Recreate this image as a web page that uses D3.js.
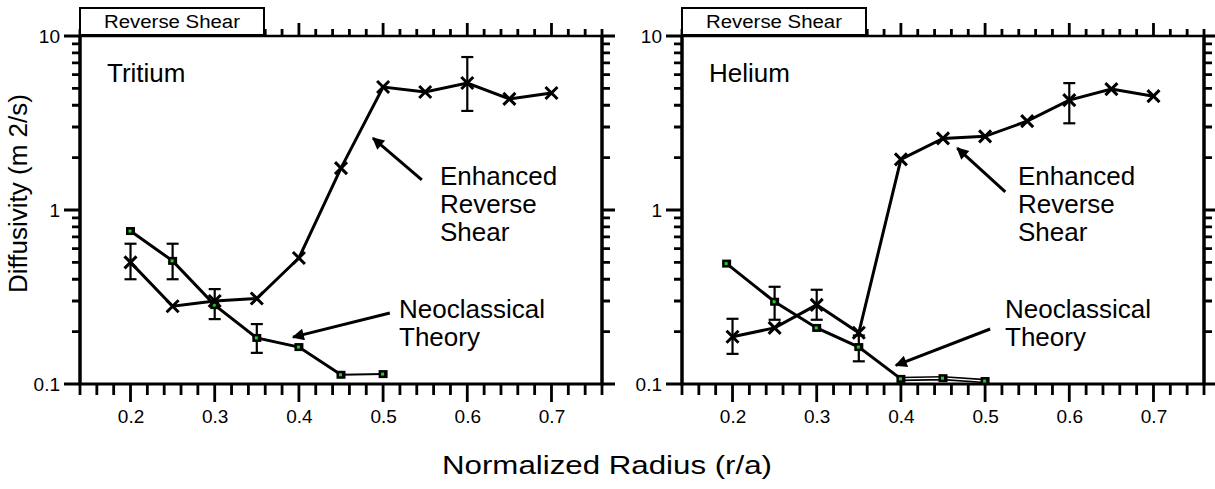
<!DOCTYPE html>
<html>
<head>
<meta charset="utf-8">
<script src="https://cdn.jsdelivr.net/npm/d3@7"></script>
<style>
  html, body { margin: 0; padding: 0; background: #fff; }
  svg { display: block; font-family: "Liberation Sans", Arial, sans-serif; }
</style>
</head>
<body>
<svg id="chart" width="1215" height="489"></svg>
<script>
// ---------------- data ----------------
const xRS = [0.2, 0.25, 0.3, 0.35, 0.4, 0.45, 0.5, 0.55, 0.6, 0.65, 0.7];
const tritiumRS = [0.50, 0.28, 0.30, 0.31, 0.53, 1.74, 5.09, 4.77, 5.37, 4.35, 4.70];
const tritiumNCx = [0.2, 0.25, 0.3, 0.35, 0.4, 0.45, 0.5];
const tritiumNC = [0.757, 0.51, 0.284, 0.184, 0.163, 0.113, 0.114];
const tritiumErrX = [0.2, 0.25, 0.3, 0.35, 0.6];
const tritiumErrLo = [0.40, 0.40, 0.236, 0.151, 3.71];
const tritiumErrHi = [0.64, 0.64, 0.351, 0.221, 7.57];

const heliumRS = [0.187, 0.21, 0.285, 0.197, 1.955, 2.58, 2.65, 3.24, 4.28, 4.95, 4.51];
const heliumNCx = [0.193, 0.25, 0.3, 0.35, 0.4, 0.45, 0.5];
const heliumNC = [0.492, 0.297, 0.210, 0.163, 0.107, 0.108, 0.104];
const heliumErrX = [0.2, 0.25, 0.3, 0.35, 0.6];
const heliumErrLo = [0.149, 0.234, 0.234, 0.135, 3.15];
const heliumErrHi = [0.237, 0.362, 0.348, 0.19, 5.36];

const xMajorTicks = [0.2, 0.3, 0.4, 0.5, 0.6, 0.7];
const xTickLabels = ["0.2", "0.3", "0.4", "0.5", "0.6", "0.7"];
const yMajorTicks = [0.1, 1, 10];
const yTickLabels = ["0.1", "1", "10"];
const panelTitles = ["Tritium", "Helium"];
const boxLabel = "Reverse Shear";
const rsLabel = ["Enhanced", "Reverse", "Shear"];
const ncLabel = ["Neoclassical", "Theory"];
const xAxisTitle = "Normalized Radius (r/a)";
const yAxisTitle = "Diffusivity (m 2/s)";
// annotation arrows in data units: [fromX, fromY, toX, toY]
const tritiumRSArrow = [0.546, 1.49, 0.488, 2.59];
const tritiumNCArrow = [0.508, 0.256, 0.393, 0.186];
const heliumRSArrow = [0.524, 1.27, 0.467, 2.27];
const heliumNCArrow = [0.506, 0.207, 0.394, 0.128];

// ---------------- layout ----------------
const svg = d3.select("#chart");
const FONT = '"Liberation Sans", Arial, sans-serif';
const xDomain = [0.14, 0.76];
const xMinor = d3.range(0.14, 0.7601, 0.02).map(v => +v.toFixed(2))
  .filter(v => !xMajorTicks.some(m => Math.abs(m - v) < 1e-6));
const yMinor = [];
[0.1, 1].forEach(d => { for (let k = 2; k <= 9; k++) yMinor.push(+(d * k).toFixed(3)); });

const defs = svg.append("defs");
defs.append("marker").attr("id", "arrow").attr("viewBox", "0 0 10 10")
  .attr("refX", 9).attr("refY", 5).attr("markerWidth", 17).attr("markerHeight", 12)
  .attr("markerUnits", "userSpaceOnUse").attr("orient", "auto")
  .append("path").attr("d", "M0,0 L10,5 L0,10 Z").attr("fill", "#000");

const panels = [
  { x0: 80, x1: 602, title: panelTitles[0], rs: tritiumRS, ncx: tritiumNCx, nc: tritiumNC,
    ex: tritiumErrX, elo: tritiumErrLo, ehi: tritiumErrHi, rsArrow: tritiumRSArrow, ncArrow: tritiumNCArrow,
    rsText: 440, ncText: 399, doubleTail: false },
  { x0: 682, x1: 1204, title: panelTitles[1], rs: heliumRS, ncx: heliumNCx, nc: heliumNC,
    ex: heliumErrX, elo: heliumErrLo, ehi: heliumErrHi, rsArrow: heliumRSArrow, ncArrow: heliumNCArrow,
    rsText: 1018, ncText: 1005, doubleTail: true }
];
const yTop = 36, yBot = 384;

panels.forEach(p => {
  const x = d3.scaleLinear().domain(xDomain).range([p.x0, p.x1]);
  const y = d3.scaleLog().domain([0.1, 10]).range([yBot, yTop]);
  const g = svg.append("g");

  // tick marks, positions from the scales
  const hTickPath = (vals, y0, len) => vals.map(v => `M${x(v)},${y0}V${y0 + len}`).join("");
  const vTickPath = (vals, x0, len) => vals.map(v => `M${x0},${y(v)}H${x0 + len}`).join("");
  const tickSpecs = [
    hTickPath(xMinor, yBot, 11), hTickPath(xMajorTicks, yBot, 18),
    hTickPath(xMinor, yTop, -7), hTickPath(xMajorTicks, yTop, -13),
    vTickPath(yMinor, p.x0, -8), vTickPath(yMajorTicks, p.x0, -16),
    vTickPath(yMinor, p.x1, 8), vTickPath(yMajorTicks, p.x1, 13)
  ];
  tickSpecs.forEach(dStr => g.append("path").attr("d", dStr)
    .attr("fill", "none").attr("stroke", "#000").attr("stroke-width", 2.8));

  // tick labels via d3 axes
  const bx = g.append("g").attr("transform", `translate(0,${yBot})`)
    .call(d3.axisBottom(x).tickValues(xMajorTicks).tickSize(0).tickPadding(26)
      .tickFormat((d, i) => xTickLabels[i]));
  const ly = g.append("g").attr("transform", `translate(${p.x0},0)`)
    .call(d3.axisLeft(y).tickValues(yMajorTicks).tickSize(0).tickPadding(20)
      .tickFormat((d, i) => yTickLabels[i]));
  [bx, ly].forEach(a => {
    a.select(".domain").remove();
    a.selectAll(".tick line").remove();
    a.attr("font-size", 19).attr("font-family", FONT);
    a.selectAll("text").attr("fill", "#000");
  });

  // frame
  g.append("line").attr("x1", p.x0).attr("x2", p.x1).attr("y1", yTop).attr("y2", yTop)
    .attr("stroke", "#000").attr("stroke-width", 2.5);
  g.append("line").attr("x1", p.x0 - 1.5).attr("x2", p.x1 + 1.5).attr("y1", yBot).attr("y2", yBot)
    .attr("stroke", "#000").attr("stroke-width", 3);
  g.append("line").attr("x1", p.x0).attr("x2", p.x0).attr("y1", yTop).attr("y2", yBot)
    .attr("stroke", "#000").attr("stroke-width", 3.5);
  g.append("line").attr("x1", p.x1).attr("x2", p.x1).attr("y1", yTop).attr("y2", yBot)
    .attr("stroke", "#000").attr("stroke-width", 3.5);

  // Reverse Shear box (covers the top ticks beneath it)
  g.append("rect").attr("x", p.x0).attr("y", 8).attr("width", 184).attr("height", 27)
    .attr("fill", "#fff").attr("stroke", "#000").attr("stroke-width", 2);
  g.append("text").attr("x", p.x0 + 92).attr("y", 28).attr("text-anchor", "middle")
    .attr("font-size", 18).attr("textLength", 136).attr("lengthAdjust", "spacingAndGlyphs")
    .attr("font-family", FONT).text(boxLabel);

  // title
  g.append("text").attr("x", p.x0 + 27).attr("y", 82).attr("font-size", 26)
    .attr("font-family", FONT).text(p.title);

  // lines
  const line = d3.line().x(d => x(d[0])).y(d => y(d[1]));
  const rsPts = xRS.map((v, i) => [v, p.rs[i]]);
  const ncPts = p.ncx.map((v, i) => [v, p.nc[i]]);
  const ncHead = ncPts.filter(d => d[0] <= (p.doubleTail ? 0.4 : 0.45));
  const ncTail = ncPts.filter(d => d[0] >= (p.doubleTail ? 0.4 : 0.45));
  g.append("path").attr("d", line(ncHead)).attr("fill", "none").attr("stroke", "#000").attr("stroke-width", 3);
  if (p.doubleTail) {
    g.append("path").attr("d", line(ncTail)).attr("fill", "none").attr("stroke", "#000").attr("stroke-width", 4.5);
    g.append("path").attr("d", line(ncTail)).attr("fill", "none").attr("stroke", "#fff").attr("stroke-width", 1.2);
  } else {
    g.append("path").attr("d", line(ncTail)).attr("fill", "none").attr("stroke", "#000").attr("stroke-width", 2);
  }
  g.append("path").attr("d", line(rsPts)).attr("fill", "none").attr("stroke", "#000").attr("stroke-width", 3);

  // error bars
  p.ex.forEach((ex, i) => {
    const cx = x(ex), ylo = y(p.elo[i]), yhi = y(p.ehi[i]);
    g.append("line").attr("x1", cx).attr("x2", cx).attr("y1", ylo).attr("y2", yhi)
      .attr("stroke", "#000").attr("stroke-width", 2.2);
    [ylo, yhi].forEach(yy => g.append("line").attr("x1", cx - 6).attr("x2", cx + 6)
      .attr("y1", yy).attr("y2", yy).attr("stroke", "#000").attr("stroke-width", 2.2));
  });

  // NC square markers
  ncPts.forEach(d => {
    const cx = x(d[0]), cy = y(d[1]);
    g.append("rect").attr("x", cx - 4.5).attr("y", cy - 4).attr("width", 9).attr("height", 8).attr("fill", "#000");
    g.append("rect").attr("x", cx - 2).attr("y", cy - 1.5).attr("width", 3).attr("height", 3).attr("fill", "#1fd41f");
  });
  // RS x markers
  rsPts.forEach(d => {
    const cx = x(d[0]), cy = y(d[1]), s = 6;
    g.append("path").attr("d", `M${cx - s},${cy - s}L${cx + s},${cy + s}M${cx - s},${cy + s}L${cx + s},${cy - s}`)
      .attr("stroke", "#000").attr("stroke-width", 3);
  });

  // annotations
  [p.rsArrow, p.ncArrow].forEach(a => {
    g.append("line").attr("x1", x(a[0])).attr("y1", y(a[1])).attr("x2", x(a[2])).attr("y2", y(a[3]))
      .attr("stroke", "#000").attr("stroke-width", 3).attr("marker-end", "url(#arrow)");
  });
  rsLabel.forEach((t, i) => g.append("text").attr("x", p.rsText).attr("y", 185 + i * 28)
    .attr("font-size", 26).attr("font-family", FONT).text(t));
  ncLabel.forEach((t, i) => g.append("text").attr("x", p.ncText).attr("y", 318 + i * 28)
    .attr("font-size", 26).attr("font-family", FONT).text(t));
});

// axis titles
svg.append("text").attr("x", 607).attr("y", 474).attr("text-anchor", "middle")
  .attr("font-size", 25).attr("textLength", 330).attr("lengthAdjust", "spacingAndGlyphs")
  .attr("font-family", FONT).text(xAxisTitle);
svg.append("text").attr("transform", "translate(27,293) rotate(-90)")
  .attr("font-size", 26).attr("font-family", FONT).text(yAxisTitle);
</script>
</body>
</html>
